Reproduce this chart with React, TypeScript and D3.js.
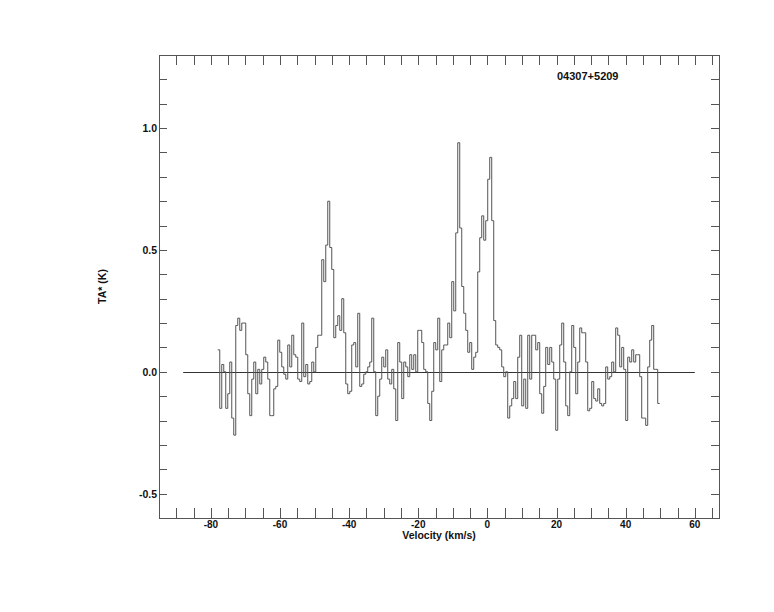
import React from "react";
import * as d3 from "d3";

// Spectrum: uniform channels starting at V0 with width DV (km/s)
const V0 = -78.0;
const DV = 0.5785;
const TA = [
  0.09, -0.15, 0.03, 0.0, -0.15, -0.09, 0.04, -0.19, -0.26, 0.19,
  0.22, 0.17, 0.2, 0.2, 0.07, -0.09, -0.18, -0.03, 0.04, -0.09,
  0.01, -0.05, 0.01, 0.06, 0.04, -0.03, -0.18, -0.18, -0.07, -0.06,
  0.13, 0.08, 0.02, -0.01, -0.03, 0.11, 0.02, 0.15, 0.07, 0.06,
  -0.03, -0.04, 0.2, -0.02, 0.03, -0.05, -0.04, 0.04, 0.0, 0.1,
  0.15,
  0.15, 0.46, 0.37, 0.52, 0.7, 0.51, 0.42, 0.14, 0.19, 0.23,
  0.17, 0.3, 0.16, -0.05, -0.09, -0.08, 0.11, 0.12, 0.02, 0.24,
  -0.06, -0.05, -0.01, 0.0, 0.02, 0.04, 0.22, 0.0, -0.18, -0.1,
  -0.03, 0.06, 0.02, 0.09, -0.03, -0.05, 0.01, -0.07, -0.2, 0.12,
  0.04, -0.11, 0.04, 0.02, -0.02, 0.07, 0.01, 0.07, 0.0, 0.17,
  0.17, 0.12, 0.01, 0.0, -0.13, -0.2, -0.08, 0.12, 0.09, 0.22,
  -0.04, 0.09, 0.11, 0.11, 0.2, 0.14, 0.37, 0.25, 0.57, 0.94,
  0.59, 0.35, 0.24, 0.17, 0.08, 0.12, 0.01, 0.06, 0.08, 0.41,
  0.55, 0.64, 0.54, 0.62, 0.79, 0.88, 0.62, 0.21, 0.11, 0.1,
  0.09, 0.02, -0.02, 0.0, -0.19,
  -0.14, -0.11, -0.04, -0.11, 0.06, 0.15, -0.14, -0.03, -0.15, 0.15,
  -0.03, 0.15, 0.15, 0.09, 0.12, -0.09, -0.17, -0.06, 0.1, 0.03,
  0.1, 0.04, -0.03, -0.24, -0.03, 0.11, 0.2, 0.04, -0.14, -0.18,
  0.0, 0.19, 0.1, -0.09, 0.04, 0.18, 0.16, 0.16, 0.04, -0.16,
  -0.15, -0.04, -0.11, -0.12, -0.07, -0.13, -0.14, -0.13, 0.02, -0.03,
  -0.02, 0.04, 0.0, 0.18, 0.15, 0.02, 0.1, 0.01, -0.2, 0.06,
  0.04, 0.09, 0.04, 0.07, 0.07, -0.02, -0.19, -0.19, -0.22, 0.02,
  0.13, 0.19, 0.01, 0.01, -0.13,
];

const X_DOMAIN: [number, number] = [-95, 67];
const Y_DOMAIN: [number, number] = [-0.6, 1.3];
const X_LABELS = [-80, -60, -40, -20, 0, 20, 40, 60];
const Y_LABELS = [-0.5, 0.0, 0.5, 1.0];
const BASELINE_RANGE = [-88, 60];
const SOURCE = "04307+5209";
const X_TITLE = "Velocity (km/s)";
const Y_TITLE = "TA* (K)";

export default function App() {
  const W = 774, H = 612;
  const L = 159, R = 719, T = 55, B = 518;
  const x = d3.scaleLinear().domain(X_DOMAIN).range([L, R]);
  const y = d3.scaleLinear().domain(Y_DOMAIN).range([B, T]);

  const pts: [number, number][] = TA.map((v, i) => [V0 + i * DV, v]);
  pts.push([V0 + TA.length * DV, TA[TA.length - 1]]);
  const line = d3
    .line<[number, number]>()
    .x((d) => x(d[0]))
    .y((d) => y(d[1]))
    .curve(d3.curveStepAfter);

  const xTicks = d3.range(-90, 66, 5);
  const yTicks = d3.range(-5, 13, 1).map((k) => k / 10);
  const font = "'Liberation Sans', Arial, Helvetica, sans-serif";
  const axisColor = "#555";

  return (
    <svg
      width={W}
      height={H}
      style={{ position: "absolute", left: 0, top: 0, background: "#fff" }}
    >
      <rect x={L + 0.5} y={T + 0.5} width={R - L} height={B - T} fill="none" stroke={axisColor} strokeWidth={1} />
      {xTicks.map((t) => (
        <g key={"xt" + t}>
          <line x1={Math.round(x(t)) + 0.5} x2={Math.round(x(t)) + 0.5} y1={B} y2={B - 10} stroke={axisColor} />
          <line x1={Math.round(x(t)) + 0.5} x2={Math.round(x(t)) + 0.5} y1={T} y2={T + 10} stroke={axisColor} />
        </g>
      ))}
      {yTicks.map((t) => (
        <g key={"yt" + t}>
          <line x1={L} x2={L + 8} y1={Math.round(y(t)) + 0.5} y2={Math.round(y(t)) + 0.5} stroke={axisColor} />
          <line x1={R} x2={R - 8} y1={Math.round(y(t)) + 0.5} y2={Math.round(y(t)) + 0.5} stroke={axisColor} />
        </g>
      ))}
      {X_LABELS.map((t) => (
        <text key={"xl" + t} x={x(t)} y={528} textAnchor="middle" fontFamily={font} fontWeight="bold" fontSize={10} fill="#111">
          {t}
        </text>
      ))}
      {Y_LABELS.map((t) => (
        <text key={"yl" + t} x={157} y={y(t) + 4} textAnchor="end" fontFamily={font} fontWeight="bold" fontSize={10.5} fill="#111">
          {t.toFixed(1)}
        </text>
      ))}
      <text x={(L + R) / 2} y={539} textAnchor="middle" fontFamily={font} fontWeight="bold" fontSize={10.5} fill="#111">
        {X_TITLE}
      </text>
      <text
        transform={`translate(106,${(T + B) / 2}) rotate(-90)`}
        textAnchor="middle"
        fontFamily={font}
        fontWeight="bold"
        fontSize={10.5}
        fill="#111"
      >
        {Y_TITLE}
      </text>
      <text x={557} y={80} fontFamily={font} fontWeight="bold" fontSize={11} fill="#111">
        {SOURCE}
      </text>
      <line
        x1={x(BASELINE_RANGE[0])}
        x2={x(BASELINE_RANGE[1])}
        y1={Math.round(y(0)) + 0.5}
        y2={Math.round(y(0)) + 0.5}
        stroke="#333"
        strokeWidth={1}
      />
      <path d={line(pts) || ""} fill="none" stroke="#555" strokeWidth={1} />
    </svg>
  );
}
